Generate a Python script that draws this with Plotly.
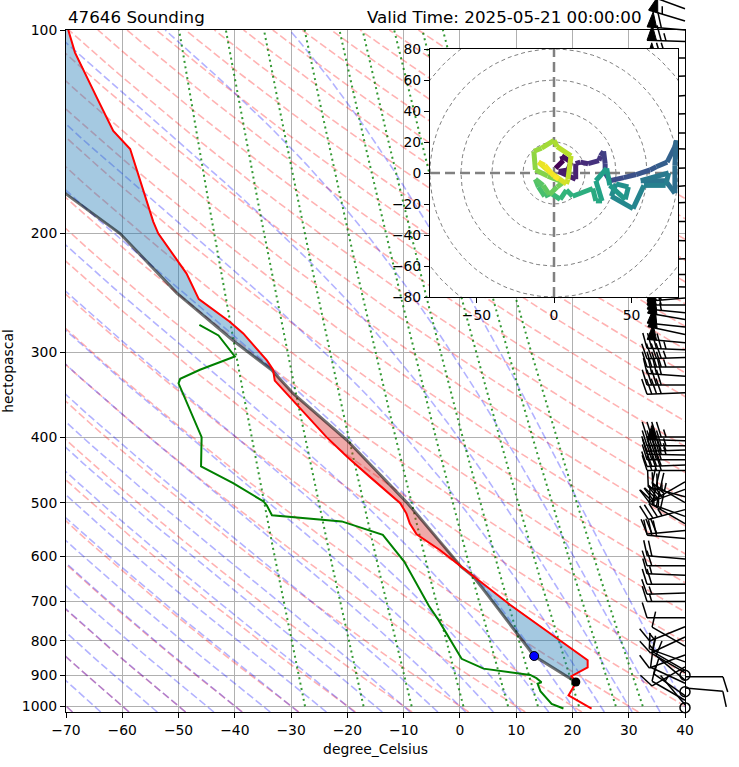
import numpy as np
import plotly.graph_objects as go
from plotly.colors import sample_colorscale

# sounding (hPa, degC)
temp_p = [1008, 978, 964, 921, 903, 876, 855, 708, 620, 588, 557, 537, 519, 501, 458, 428, 400,
          330, 318, 308, 281, 270, 250, 229, 200, 192, 150, 141, 126, 108, 100]
temp_c = [23.4, 20.7, 19.3, 20.7, 19.8, 22.7, 22.7, 8.9, 0.0, -3.5, -7.7, -8.9, -9.5, -10.6, -16.0, -20.0, -23.7,
          -32.9, -33.2, -34.3, -38.5, -40.9, -46.4, -48.6, -53.6, -54.5, -58.6, -61.6, -64.5, -68.4, -69.6]

dew_p = [1008, 992, 950, 926, 922, 909, 899, 880, 851, 746, 711, 611, 558, 533, 522, 505, 498,
         468, 442, 400, 333, 328, 318, 304, 283, 273]
dew_c = [18.4, 16.3, 14.3, 13.8, 14.5, 13.6, 12.5, 4.2, 0.3, -3.8, -5.5, -9.9, -13.7, -21.0, -33.4, -34.3, -34.9,
         -40.3, -46.0, -45.9, -50.0, -49.7, -46.2, -40.0, -42.9, -46.3]

parcel_p = [921, 843, 700, 643, 622, 501, 404, 345, 318, 288, 245, 200, 175, 150, 100]
parcel_c = [20.6, 13.2, 5.8, 2.4, 0.2, -9.3, -20.1, -29.6, -33.5, -40.3, -50.3, -60.4, -69.9, -80.0, -100.0]

start_p, start_t = 921, 20.6   # black dot
lcl_p, lcl_t = 843, 13.2       # blue dot

# wind barbs: pressure (hPa), direction (deg), speed (kt)
barb_p = [93, 97, 100, 104, 110, 117, 125, 133, 142, 150, 160, 170, 180, 192, 205, 218, 230, 240,
          249, 255, 262, 268, 275, 282, 290, 297, 305, 315, 325, 335, 344,
          400, 405, 412, 418, 425, 432, 440, 448,
          466, 478, 490, 500, 512, 524, 537, 550, 565,
          606, 620, 640, 660, 680, 700, 740,
          763, 790, 815, 840, 860, 875, 885,
          892, 900, 905, 915, 925, 940, 952, 965, 980, 995, 1005]
barb_dir = [290, 287, 275, 272, 270, 268, 265, 268, 270, 272, 268, 265, 268, 270, 272, 268, 270, 272,
            265, 270, 276, 280, 276, 282, 275, 272, 268, 270, 274, 270, 268,
            270, 272, 270, 268, 271, 270, 268, 270,
            240, 250, 285, 300, 255, 290, 300, 265, 275,
            275, 270, 272, 270, 268, 270, 270,
            248, 245, 300, 250, 290, 240, 300,
            300, 0, 90, 310, 295, 95, 0, 305, 300, 320, 0]
barb_spd = [55, 55, 60, 65, 70, 75, 80, 85, 85, 80, 75, 80, 78, 75, 70, 65, 60, 58,
            55, 55, 53, 52, 50, 50, 48, 47, 45, 43, 42, 40, 40,
            45, 48, 47, 45, 45, 42, 40, 40,
            40, 38, 35, 35, 35, 30, 30, 30, 28,
            20, 20, 15, 20, 15, 15, 10,
            15, 15, 12, 12, 10, 10, 8,
            10, 0, 10, 10, 8, 10, 0, 10, 8, 5, 0]

# hodograph (kt), in sounding order
hodo_u = [1, 6, 5, 11, 9, 3,
          14, 14, 17, 22, 29, 30, 32, 33, 33,
          36, 45, 53, 62, 66, 73, 78, 79, 78, 78,
          72, 56, 74, 72, 58, 51, 37, 40, 48, 46, 36, 34, 27, 31, 27,
          25, 12, 8, 4, -2, -6, -10, -12, -7, -3, 2, 6,
          -4, -12, -13, -8, 0, 2, 11, 9, 8,
          -2, -10, -6, 0, 3]
hodo_v = [3, 8, 11, 7, 2, 1,
          -4, 6, 7, 6, 8, 11, 14, 6, 0,
          -5, -3, -1, 2, 4, 7, 17, 21, 5, -13,
          -5, -5, 0, -8, -8, -23, -15, -7, -9, -17, -8, 3, -5, -18, -18,
          -10, -15, -11, -17, -13, -15, -9, -4, -8, -14, -9, -6,
          -2, 2, 14, 16, 21, 17, 11, -4, -7,
          0, 7, 5, -2, -4]

station = "47646"
valid_time = "2025-05-21 00:00:00"

# page layout (px)
W, H = 739, 767
PL, PR, PT, PB = 66, 685, 30, 712      # skew-T box
HL, HR, HT, HB = 430, 678, 49, 297     # hodograph box
t_lo, t_hi = -70, 40
p_lo, p_hi = 1020, 100
xs = (PR - PL) / (t_hi - t_lo)                          # px per degC
ys = (PB - PT) / (np.log10(p_lo) - np.log10(p_hi))      # px per decade

Rd, Cp, Lv, eps = 287.04749, 1004.6662, 2.50084e6, 0.6219569


def joined(xs_list, ys_list):
    X, Y = [], []
    for lx, ly in zip(xs_list, ys_list):
        X += list(lx) + [None]
        Y += list(ly) + [None]
    return X, Y


def moist_rate(lnp, tk):
    p = np.exp(lnp)
    es = 6.112 * np.exp(17.67 * (tk - 273.15) / (tk - 29.65))
    rs = eps * es / (p - es)
    return (Rd * tk + Lv * rs) / (Cp + Lv * Lv * rs * eps / (Rd * tk * tk))


def moist_lapse(t0c, levels):
    # rk4 in ln(p), starting at levels[0]
    lnp = np.log(levels)
    t = np.asarray(t0c, float) + 273.15
    out = [t.copy()]
    for a, b in zip(lnp[:-1], lnp[1:]):
        h = b - a
        k1 = moist_rate(a, t)
        k2 = moist_rate(a + h / 2, t + h / 2 * k1)
        k3 = moist_rate(a + h / 2, t + h / 2 * k2)
        k4 = moist_rate(b, t + h * k3)
        t = t + h / 6 * (k1 + 2 * k2 + 2 * k3 + k4)
        out.append(t.copy())
    return np.array(out) - 273.15


def interp_logp(p_new, p, val):
    lp = np.log(np.asarray(p, float))
    order = np.argsort(lp)
    return np.interp(np.log(p_new), lp[order], np.asarray(val, float)[order])


fig = go.Figure()

# dry adiabats
p_dry = np.geomspace(p_lo, p_hi, 60)
dry_t0 = np.arange(-70, 241, 10)
dx, dy = joined([(t + 273.15) * (p_dry / 1000.) ** (Rd / Cp) - 273.15 for t in dry_t0],
                [p_dry] * len(dry_t0))
fig.add_trace(go.Scatter(x=dx, y=dy, mode="lines", hoverinfo="skip",
                         line=dict(color="rgba(255,0,0,0.3)", width=1.6, dash="7.7px,3.3px")))

# moist adiabats
moist_t0 = np.arange(-70, 41, 5)
p_up = np.geomspace(1000, p_hi, 90)
p_dn = np.geomspace(1000, p_lo, 4)
t_up = moist_lapse(moist_t0, p_up)
t_dn = moist_lapse(moist_t0, p_dn)
p_moist = np.concatenate([p_dn[::-1], p_up[1:]])
t_moist = np.concatenate([t_dn[::-1], t_up[1:]])
mx, my = joined([t_moist[:, i] for i in range(len(moist_t0))], [p_moist] * len(moist_t0))
fig.add_trace(go.Scatter(x=mx, y=my, mode="lines", hoverinfo="skip",
                         line=dict(color="rgba(0,0,255,0.3)", width=1.6, dash="7.7px,3.3px")))

# mixing ratio lines
mix_w = [0.0004, 0.001, 0.002, 0.004, 0.007, 0.01, 0.016, 0.024, 0.032]
p_mix = np.geomspace(1000, p_hi, 40)
mix_lines = []
for w in mix_w:
    lr = np.log(w * p_mix / (eps + w) / 6.112)
    mix_lines.append(243.5 * lr / (17.67 - lr))
wx, wy = joined(mix_lines, [p_mix] * len(mix_w))
fig.add_trace(go.Scatter(x=wx, y=wy, mode="lines", hoverinfo="skip",
                         line=dict(color="rgba(0,128,0,0.8)", width=2, dash="2px,3.5px")))

# CIN / CAPE shading
p_grid = np.geomspace(start_p, p_hi, 800)
t_env = interp_logp(p_grid, temp_p, temp_c)
t_prc = interp_logp(p_grid, parcel_p, parcel_c)
p_poly = np.concatenate([p_grid, p_grid[::-1]])
fig.add_trace(go.Scatter(x=np.concatenate([t_env, np.minimum(t_prc, t_env)[::-1]]), y=p_poly,
                         mode="lines", fill="toself", fillcolor="rgba(31,119,180,0.4)",
                         line=dict(width=0), hoverinfo="skip"))
fig.add_trace(go.Scatter(x=np.concatenate([t_env, np.maximum(t_prc, t_env)[::-1]]), y=p_poly,
                         mode="lines", fill="toself", fillcolor="rgba(214,39,40,0.4)",
                         line=dict(width=0), hoverinfo="skip"))

# profiles
fig.add_trace(go.Scatter(x=parcel_c, y=parcel_p, mode="lines",
                         line=dict(color="rgba(0,0,0,0.55)", width=3)))
fig.add_trace(go.Scatter(x=temp_c, y=temp_p, mode="lines", line=dict(color="#ff0000", width=2)))
fig.add_trace(go.Scatter(x=dew_c, y=dew_p, mode="lines", line=dict(color="#008000", width=2)))
fig.add_trace(go.Scatter(x=[lcl_t], y=[lcl_p], mode="markers",
                         marker=dict(color="#0000ff", size=9, line=dict(color="black", width=1))))
fig.add_trace(go.Scatter(x=[start_t], y=[start_p], mode="markers",
                         marker=dict(color="black", size=9)))

# wind barbs (matplotlib geometry, drawn on an overlay that can run past the box)
Lb = 38.0
b_space, b_h, b_w = 0.125 * Lb, 0.4 * Lb, 0.25 * Lb
bx, by, fx, fy, cx, cy = [], [], [], [], [], []
for p0, wd, sp in zip(barb_p, barb_dir, barb_spd):
    mag = 5 * round(sp / 5)
    nflag, mag = divmod(mag, 50)
    nbarb, mag = divmod(mag, 10)
    half = mag >= 5
    if not (nflag or nbarb or half):
        cx.append(t_hi)
        cy.append(p0)
        continue
    rad = np.radians(wd)
    d = np.array([np.sin(rad), np.cos(rad)])
    s = np.array([d[1], -d[0]])

    def to_data(a, b):
        px, py = a * s + b * d
        return t_hi + px / xs, p0 * 10 ** (-py / ys)

    segs = [[(0, 0), (0, Lb)]]
    flags = []
    off = Lb
    for i in range(nflag):
        if off != Lb:
            off += b_space / 2
        flags.append([(0, off), (b_h, off - b_w / 2), (0, off - b_w)])
        off -= b_w + b_space
    for i in range(nbarb):
        segs.append([(0, off), (b_h, off + b_w / 2)])
        off -= b_space
    if half:
        if off == Lb:
            off -= 1.5 * b_space
        segs.append([(0, off), (b_h / 2, off + b_w / 4)])
    for seg in segs:
        for a, b in seg:
            x, y = to_data(a, b)
            bx.append(x)
            by.append(y)
        bx.append(None)
        by.append(None)
    for fl in flags:
        for a, b in fl:
            x, y = to_data(a, b)
            fx.append(x)
            fy.append(y)
        fx.append(None)
        fy.append(None)

fig.add_trace(go.Scatter(x=bx, y=by, mode="lines", line=dict(color="black", width=1.5),
                         xaxis="x2", yaxis="y2", hoverinfo="skip"))
fig.add_trace(go.Scatter(x=fx, y=fy, mode="lines", fill="toself", fillcolor="black",
                         line=dict(color="black", width=1), xaxis="x2", yaxis="y2", hoverinfo="skip"))
fig.add_trace(go.Scatter(x=cx, y=cy, mode="markers", xaxis="x2", yaxis="y2",
                         marker=dict(symbol="circle-open", size=10, color="black", line=dict(width=1.5))))

# hodograph
rings = [20, 40, 60, 80, 100]
th = np.linspace(0, 2 * np.pi, 181)
rx, ry = joined([r * np.cos(th) for r in rings], [r * np.sin(th) for r in rings])
fig.add_trace(go.Scatter(x=rx, y=ry, mode="lines", xaxis="x3", yaxis="y3", hoverinfo="skip",
                         line=dict(color="grey", width=1, dash="4px,3px")))
fig.add_trace(go.Scatter(x=[-80, 80, None, 0, 0], y=[0, 0, None, -80, 80], mode="lines",
                         xaxis="x3", yaxis="y3", hoverinfo="skip",
                         line=dict(color="grey", width=2.5, dash="10px,5px")))
seg_cols = sample_colorscale("Viridis", list(np.linspace(0, 1, len(hodo_u) - 1)))
for i in range(len(hodo_u) - 1):
    fig.add_trace(go.Scatter(x=hodo_u[i:i + 2], y=hodo_v[i:i + 2], mode="lines",
                             xaxis="x3", yaxis="y3", hoverinfo="skip",
                             line=dict(color=seg_cols[i], width=5)))

tick_font = dict(family="DejaVu Sans", size=13.9, color="black")
frame = dict(showline=True, linecolor="black", linewidth=1, mirror=True, ticks="outside",
             ticklen=5, tickwidth=1, tickcolor="black", zeroline=False, tickfont=tick_font,
             automargin=False)

fig.update_layout(
    width=W, height=H, margin=dict(l=0, r=0, t=0, b=0, autoexpand=False),
    paper_bgcolor="white", plot_bgcolor="rgba(0,0,0,0)", showlegend=False,
    font=dict(family="DejaVu Sans", color="black"),
    xaxis=dict(frame, domain=[PL / W, PR / W], range=[t_lo, t_hi], anchor="y",
               tickvals=list(range(t_lo, t_hi + 1, 10)),
               showgrid=True, gridcolor="#b0b0b0", gridwidth=1,
               title=dict(text="degree_Celsius", font=tick_font, standoff=7)),
    yaxis=dict(frame, domain=[1 - PB / H, 1 - PT / H], type="log", anchor="x",
               range=[np.log10(p_lo), np.log10(p_hi)],
               tickvals=list(range(100, 1001, 100)), ticktext=[str(v) for v in range(100, 1001, 100)],
               showgrid=True, gridcolor="#b0b0b0", gridwidth=1,
               title=dict(text="hectopascal", font=tick_font, standoff=4)),
    xaxis2=dict(domain=[PL / W, 1], range=[t_lo, t_lo + (W - PL) / xs], anchor="y2",
                visible=False, automargin=False),
    yaxis2=dict(domain=[0, 1], type="log", anchor="x2", visible=False, automargin=False,
                range=[np.log10(p_lo) + (H - PB) / ys, np.log10(p_hi) - PT / ys]),
    xaxis3=dict(frame, domain=[HL / W, HR / W], range=[-80, 80], anchor="y3",
                tickvals=[-50, 0, 50], showgrid=False),
    yaxis3=dict(frame, domain=[1 - HB / H, 1 - HT / H], range=[-80, 80], anchor="x3",
                tickvals=list(range(-80, 81, 20)), showgrid=False),
    shapes=[dict(type="rect", xref="x3", yref="y3", x0=-80, x1=80, y0=-80, y1=80,
                 layer="below", fillcolor="white", line=dict(width=0))],
    annotations=[
        dict(text=f"{station} Sounding", x=PL / W, y=1 - 17 / H, xref="paper", yref="paper",
             xanchor="left", yanchor="middle", showarrow=False,
             font=dict(family="DejaVu Sans", size=16.7, color="black")),
        dict(text=f"Valid Time: {valid_time}", x=644 / W, y=1 - 17 / H, xref="paper", yref="paper",
             xanchor="right", yanchor="middle", showarrow=False,
             font=dict(family="DejaVu Sans", size=16.7, color="black")),
    ],
)

fig.write_html("out.html", config={"displayModeBar": False},
               post_script="document.body.style.margin='0px';")
